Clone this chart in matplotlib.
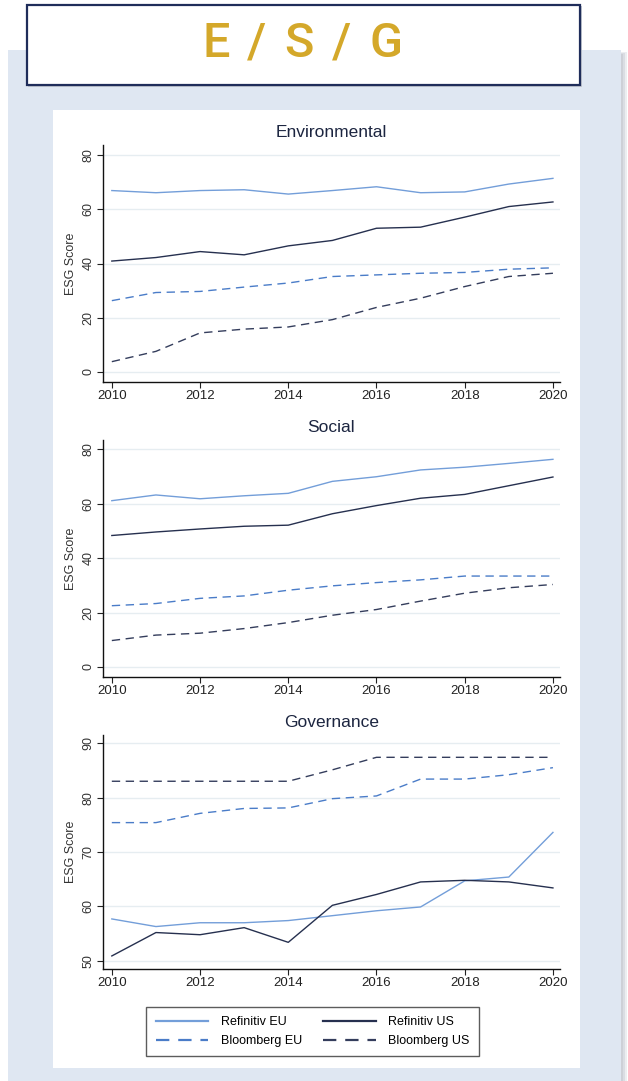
import matplotlib.pyplot as plt
from matplotlib.patches import Rectangle
from matplotlib.lines import Line2D

years = list(range(2010, 2021))

# Environmental pillar
env_ref_eu = [66.9, 66.1, 66.9, 67.2, 65.6, 66.9, 68.3, 66.1, 66.4, 69.3, 71.4]
env_ref_us = [40.9, 42.2, 44.4, 43.2, 46.5, 48.5, 53.0, 53.4, 57.1, 61.0, 62.7]
env_bbg_eu = [26.3, 29.3, 29.7, 31.3, 32.8, 35.2, 35.8, 36.4, 36.7, 37.9, 38.4]
env_bbg_us = [3.8, 7.6, 14.4, 15.8, 16.6, 19.3, 23.8, 27.2, 31.5, 35.2, 36.4]

# Social pillar
soc_ref_eu = [61.1, 63.2, 61.8, 62.9, 63.8, 68.2, 69.9, 72.4, 73.4, 74.8, 76.3]
soc_ref_us = [48.3, 49.6, 50.7, 51.7, 52.1, 56.3, 59.3, 62.0, 63.4, 66.6, 69.8]
soc_bbg_eu = [22.5, 23.3, 25.2, 26.1, 28.2, 29.8, 31.0, 32.0, 33.4, 33.4, 33.4]
soc_bbg_us = [9.7, 11.7, 12.4, 14.1, 16.3, 19.0, 21.1, 24.2, 27.1, 29.1, 30.3]

# Governance pillar
gov_ref_eu = [57.7, 56.3, 57.0, 57.0, 57.4, 58.3, 59.2, 59.9, 64.7, 65.4, 73.6]
gov_ref_us = [50.9, 55.2, 54.8, 56.1, 53.4, 60.2, 62.2, 64.5, 64.8, 64.5, 63.4]
gov_bbg_eu = [75.4, 75.4, 77.1, 78.0, 78.1, 79.8, 80.3, 83.4, 83.4, 84.2, 85.5]
gov_bbg_us = [83.0, 83.0, 83.0, 83.0, 83.0, 85.1, 87.4, 87.4, 87.4, 87.4, 87.4]

heading = ["E", "/", "S", "/", "G"]
panel_titles = ["Environmental", "Social", "Governance"]
series_labels = ["Refinitiv EU", "Refinitiv US", "Bloomberg EU", "Bloomberg US"]
panel_data = [
    [env_ref_eu, env_ref_us, env_bbg_eu, env_bbg_us],
    [soc_ref_eu, soc_ref_us, soc_bbg_eu, soc_bbg_us],
    [gov_ref_eu, gov_ref_us, gov_bbg_eu, gov_bbg_us],
]
panel_yticks = [[0, 20, 40, 60, 80], [0, 20, 40, 60, 80], [50, 60, 70, 80, 90]]
panel_ylims = [(-3.7, 83.7), (-3.7, 83.4), (48.5, 91.5)]

light_blue = "#739ed9"
navy = "#26304f"
dash_blue = "#4a7cc8"
dash_navy = "#343d5c"
styles = [
    dict(color=light_blue, linestyle="-"),
    dict(color=navy, linestyle="-"),
    dict(color=dash_blue, linestyle=(0, (6, 4))),
    dict(color=dash_navy, linestyle=(0, (6, 4))),
]

plt.rcParams["font.family"] = ["Liberation Sans", "DejaVu Sans"]

W, H = 628, 1081
fig = plt.figure(figsize=(W / 100, H / 100), dpi=100, facecolor="white")


def px_rect(x0, y0, x1, y1, **kw):
    # rectangle given in pixel coords measured from the top-left corner
    return Rectangle((x0 / W, 1 - y1 / H), (x1 - x0) / W, (y1 - y0) / H,
                     transform=fig.transFigure, **kw)


# backdrop: soft shadow, pale blue panel, white chart card
for i, c in enumerate(["#eceef1", "#dadde3", "#cdd0d7"]):
    fig.add_artist(px_rect(10 + 2 * i, 52 + i, 627 - 2 * i, 1081,
                           facecolor=c, edgecolor="none", zorder=-14 + i))
fig.add_artist(px_rect(8, 50, 621, 1081, facecolor="#dfe7f2", edgecolor="none", zorder=-11))
fig.add_artist(px_rect(53, 110, 580, 1068, facecolor="white", edgecolor="none", zorder=-10))

# heading box, letters spaced out by hand
fig.add_artist(px_rect(28, 6, 582, 87, facecolor="#c3c7d0", edgecolor="none", zorder=-9))
fig.add_artist(px_rect(27, 5, 580, 85, facecolor="white", edgecolor="#1f2d5a",
                       linewidth=1.6, zorder=-8))
for ch, cx in zip(heading, [216, 257, 299, 342, 386]):
    fig.text(cx / W, 1 - 44 / H, ch, ha="center", va="center",
             fontsize=35, fontweight="medium", color="#d4a82a",
             family=["Roboto", "DejaVu Sans"])

axes_px = [(145, 382), (440, 677), (735, 969)]
left_px, right_px = 103, 560

for (top, bottom), title, data, yt, yl in zip(axes_px, panel_titles, panel_data,
                                              panel_yticks, panel_ylims):
    ax = fig.add_axes([left_px / W, 1 - bottom / H, (right_px - left_px) / W, (bottom - top) / H])
    for vals, st in zip(data, styles):
        ax.plot(years, vals, linewidth=1.0, **st)
    ax.set_xlim(2009.8, 2020.16)
    ax.set_ylim(*yl)
    ax.set_xticks([2010, 2012, 2014, 2016, 2018, 2020])
    ax.set_yticks(yt)
    ax.grid(axis="y", color="#e6edf1", linewidth=1.0)
    ax.set_axisbelow(True)
    for s in ["top", "right"]:
        ax.spines[s].set_visible(False)
    for s in ["left", "bottom"]:
        ax.spines[s].set_color("#111111")
        ax.spines[s].set_linewidth(1.0)
    ax.tick_params(axis="both", direction="out", length=4, width=0.8, color="#222222",
                   labelsize=9.5, labelcolor="#222222", pad=2)
    ax.tick_params(axis="y", labelsize=9, labelcolor="#333333")
    for lab in ax.get_yticklabels():
        lab.set_rotation(90)
        lab.set_va("center")
    ax.set_ylabel("ESG Score", fontsize=9, color="#333333", labelpad=4)
    ax.set_title(title, fontsize=12.5, color="#1c2540", pad=6)

handles = [Line2D([], [], linewidth=1.6, **st) for st in styles]
order = [0, 2, 1, 3]
leg = fig.legend([handles[i] for i in order], [series_labels[i] for i in order],
                 loc="center", bbox_to_anchor=(312.5 / W, 1 - 1031.5 / H), ncol=2,
                 fontsize=9, frameon=True, fancybox=False, handlelength=4.2,
                 columnspacing=1.7, handletextpad=1.0, labelspacing=0.55,
                 borderpad=0.75)
leg.get_frame().set_edgecolor("#333333")
leg.get_frame().set_linewidth(1.0)

fig.savefig("out.png", dpi=100, facecolor="white")
